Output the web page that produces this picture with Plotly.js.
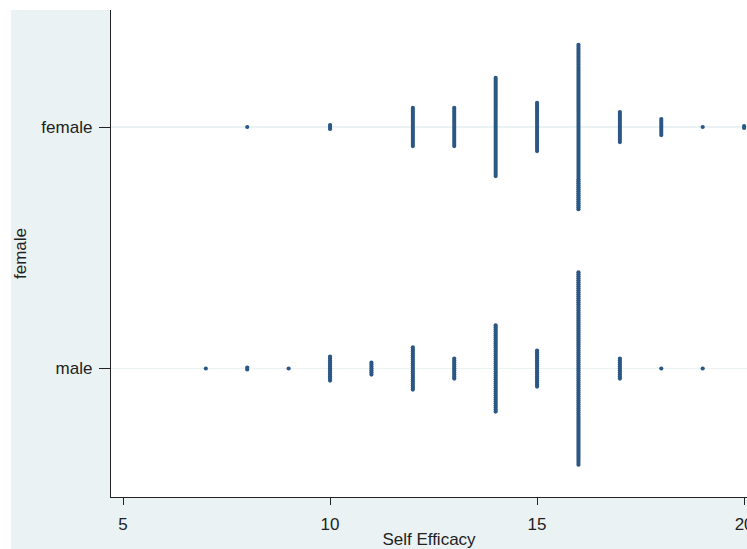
<!DOCTYPE html>
<html>
<head>
<meta charset="utf-8">
<script src="https://cdn.plot.ly/plotly-3.0.1.min.js"></script>
<style>
  html, body { margin: 0; padding: 0; background: #ffffff; }
  #chart { position: absolute; left: 11px; top: 10px; width: 736px; height: 539px; }
</style>
</head>
<body>
<div id="chart"></div>
<script>
// Self Efficacy scores observed in each group, with the number of students at each score
const groupLabels = ['male', 'female'];
const scoresFemale = [8, 10, 12, 13, 14, 15, 16, 17, 18, 19, 20];
const countsFemale = [1, 3, 20, 20, 50, 25, 83, 16, 9, 1, 2];
const scoresMale = [7, 8, 9, 10, 11, 12, 13, 14, 15, 16, 17, 18, 19];
const countsMale = [1, 2, 1, 13, 7, 22, 11, 44, 19, 97, 11, 1, 1];
const xTicks = [5, 10, 15, 20];

// vertical gap between stacked observations, in category units
const STACK_STEP = 0.0083;

// one marker per observation, stacked symmetrically around the group line
function stacked(scores, counts, level) {
  const x = [], y = [];
  scores.forEach((s, i) => {
    const n = counts[i];
    for (let k = 0; k < n; k++) {
      x.push(s);
      y.push(level + (k - (n - 1) / 2) * STACK_STEP);
    }
  });
  return { x, y };
}

const f = stacked(scoresFemale, countsFemale, 1);
const m = stacked(scoresMale, countsMale, 0);

const markerStyle = { color: '#2b5784', size: 4.2, symbol: 'circle', line: { width: 0 } };

const traces = [
  { type: 'scatter', mode: 'markers', x: m.x, y: m.y, marker: markerStyle, hoverinfo: 'x', showlegend: false, cliponaxis: false },
  { type: 'scatter', mode: 'markers', x: f.x, y: f.y, marker: markerStyle, hoverinfo: 'x', showlegend: false, cliponaxis: false }
];

const font = { family: 'Liberation Sans, Arial, Helvetica, sans-serif', size: 17, color: '#222222' };

const layout = {
  width: 736,
  height: 539,
  paper_bgcolor: '#eaf2f3',
  plot_bgcolor: '#ffffff',
  margin: { l: 100, r: 0, t: 0, b: 52, pad: 0 },
  font: font,
  showlegend: false,
  xaxis: {
    range: [4.71, 20.07],
    tickvals: xTicks,
    ticktext: xTicks.map(String),
    ticks: 'outside',
    ticklen: 7,
    tickwidth: 1,
    tickcolor: '#222222',
    ticklabelstandoff: 4,
    ticklabeloverflow: 'allow',
    showline: true,
    linecolor: '#222222',
    linewidth: 1.2,
    showgrid: false,
    zeroline: false,
    automargin: false,
    tickfont: font,
    title: { text: 'Self Efficacy', font: font, standoff: 2 }
  },
  yaxis: {
    range: [-0.532, 1.4845],
    tickvals: [0, 1],
    ticktext: groupLabels,
    ticks: 'outside',
    ticklen: 11,
    tickwidth: 1,
    tickcolor: '#222222',
    ticklabelstandoff: 3,
    showline: true,
    linecolor: '#222222',
    linewidth: 1.2,
    showgrid: true,
    gridcolor: '#eaf2f3',
    gridwidth: 1.5,
    zeroline: false,
    automargin: false,
    tickfont: font,
    title: { text: 'female', font: font, standoff: 12 }
  }
};

Plotly.newPlot('chart', traces, layout, { staticPlot: true, displayModeBar: false });
</script>
</body>
</html>
